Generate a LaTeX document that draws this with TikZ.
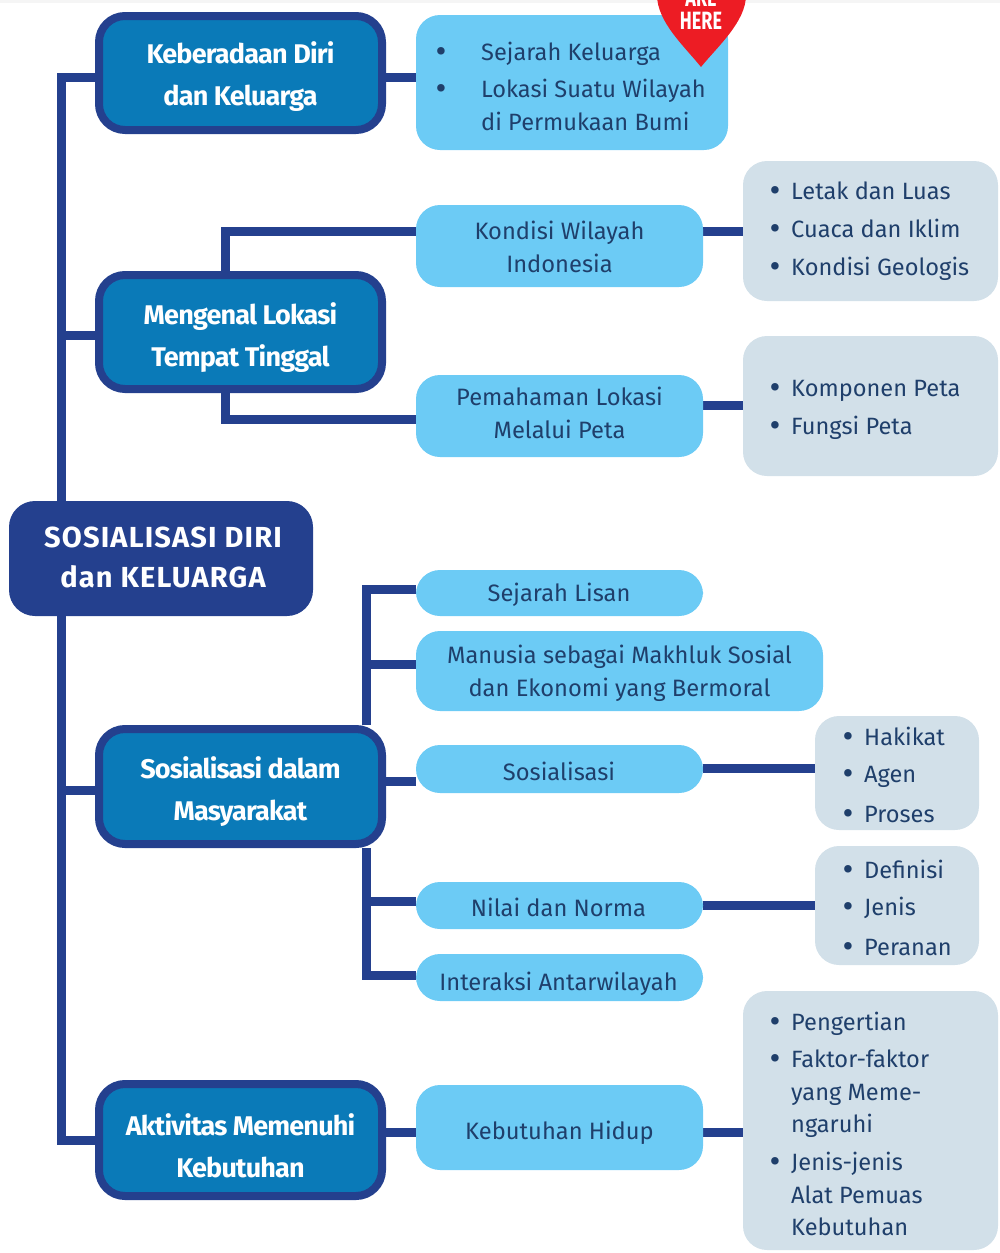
\documentclass[tikz,border=0pt]{standalone}
\usepackage{fontspec}
\setmainfont{Fira Sans}
\usetikzlibrary{backgrounds}
\definecolor{navy}{HTML}{24408E}
\definecolor{midblue}{HTML}{0A7AB8}
\definecolor{lightblue}{HTML}{6CCBF5}
\definecolor{greybox}{HTML}{D2E0E9}
\definecolor{inktext}{HTML}{1F3F6B}
\definecolor{heartred}{HTML}{ED1C24}
\tikzset{
  conn/.style={draw=navy,line width=9pt,line cap=butt,line join=miter},
  rootbox/.style={fill=navy,rounded corners=26pt,inner sep=0pt},
  roottext/.style={inner sep=0pt,align=center,text=white,font=\fontsize{29}{40}\selectfont\bfseries\addfontfeature{LetterSpace=4}},
  topicbox/.style={fill=midblue,draw=navy,line width=8pt,rounded corners=26pt,inner sep=0pt},
  topictext/.style={inner sep=0pt,align=center,text=white,font=\fontsize{27}{42}\selectfont\bfseries\addfontfeature{LetterSpace=-3}},
  subbox/.style={fill=lightblue,rounded corners=24pt,inner sep=0pt},
  subtext/.style={inner sep=0pt,align=center,text=inktext,font=\fontsize{23.7}{33}\selectfont},
  listbox/.style={fill=greybox,rounded corners=24pt,inner sep=0pt},
  itemtext/.style={anchor=base west,inner sep=0pt,text=inktext,font=\fontsize{23.6}{33}\selectfont},
  bullet/.style={anchor=base,inner sep=0pt,text=inktext,font=\fontsize{27}{33}\selectfont\bfseries},
  heartlabel/.style={inner sep=0pt,text=white,font=\fontsize{25}{25}\selectfont\bfseries,xscale=.72}
}
\newcommand{\itemline}[5]{% name, bullet x, text x, baseline y, text
  \node[bullet] (#1b) at (#2,#4) {•};
  \node[itemtext] (#1) at (#3,#4) {#5};}
\begin{document}
\begin{tikzpicture}[x=1pt,y=-1pt]
\useasboundingbox (0,0) rectangle (1000,1253);

% main boxes
\node[rootbox,minimum width=304pt,minimum height=115pt] (root) at (161,558.5) {};
\node[roottext] (roott) at (163,557) {SOSIALISASI DIRI\\dan KELUARGA};
\node[topicbox,minimum width=283pt,minimum height=114pt] (kel) at (240.5,73) {};
\node[topictext] (kelt) at (240.5,77) {Keberadaan Diri\\dan Keluarga};
\node[topicbox,minimum width=283pt,minimum height=114pt] (lok) at (240.5,332) {};
\node[topictext] (lokt) at (240.5,338) {Mengenal Lokasi\\Tempat Tinggal};
\node[topicbox,minimum width=283pt,minimum height=115pt] (sos) at (240.5,786.5) {};
\node[topictext] (sost) at (240.5,792) {Sosialisasi dalam\\Masyarakat};
\node[topicbox,minimum width=283pt,minimum height=112pt] (akt) at (240.5,1140) {};
\node[topictext] (aktt) at (240.5,1146) {Aktivitas Memenuhi\\Kebutuhan};

% first-level content
\node[subbox,minimum width=312pt,minimum height=135pt] (sej) at (572,82.5) {};
\node[subbox,minimum width=287pt,minimum height=82pt] (kon) at (559.5,246) {};
\node[subtext] (kont) at (559.5,247) {Kondisi Wilayah\\Indonesia};
\node[subbox,minimum width=287pt,minimum height=82pt] (pem) at (559.5,416) {};
\node[subtext] (pemt) at (559.5,413) {Pemahaman Lokasi\\Melalui Peta};
\node[subbox,minimum width=287pt,minimum height=46pt] (lis) at (559.5,593) {};
\node[subtext] (list) at (559,595) {Sejarah Lisan};
\node[subbox,minimum width=407pt,minimum height=80pt] (man) at (619.5,671) {};
\node[subtext] (mant) at (619.5,673) {Manusia sebagai Makhluk Sosial\\dan Ekonomi yang Bermoral};
\node[subbox,minimum width=287pt,minimum height=48pt] (sok) at (559.5,769) {};
\node[subtext] (sokt) at (559,771) {Sosialisasi};
\node[subbox,minimum width=287pt,minimum height=47pt] (nil) at (559.5,905.5) {};
\node[subtext] (nilt) at (558.5,907) {Nilai dan Norma};
\node[subbox,minimum width=287pt,minimum height=47pt] (int) at (559.5,977.5) {};
\node[subtext] (intt) at (558.5,984) {Interaksi Antarwilayah};
\node[subbox,minimum width=287pt,minimum height=85pt] (keb) at (559.5,1127.5) {};
\node[subtext] (kebt) at (559.5,1133) {Kebutuhan Hidup};

% grey list boxes
\node[listbox,minimum width=255pt,minimum height=140pt] (ga) at (870.5,231) {};
\node[listbox,minimum width=255pt,minimum height=140pt] (gb) at (870.5,406) {};
\node[listbox,minimum width=164pt,minimum height=114pt] (gc) at (897,773) {};
\node[listbox,minimum width=164pt,minimum height=119pt] (gd) at (897,905.5) {};
\node[listbox,minimum width=255pt,minimum height=259pt] (ge) at (870.5,1120.5) {};

% junction coordinates
\coordinate (s1) at (61,77);
\coordinate (s2) at (61,335);
\coordinate (s3) at (61,790);
\coordinate (s4) at (61,1140);
\coordinate (u1) at (225,231);
\coordinate (u2) at (225,419);
\coordinate (v1) at (366,589);
\coordinate (v2) at (366,664);
\coordinate (v3) at (366,781);
\coordinate (v4) at (366,901);
\coordinate (v5) at (366,975);
\coordinate (h1) at (703,405);
\coordinate (h2) at (703,768);
\coordinate (h3) at (703,1132);

% connectors
\begin{pgfonlayer}{background}
\fill[black!4] (0,0) rectangle (1000,3);
\draw[conn] (s1 |- root.north) -- (s1) -- (s1 -| kel.west);
\draw[conn] (s2) -- (s2 -| lok.west);
\draw[conn] (s3) -- (s3 -| sos.west);
\draw[conn] (s4 |- root.south) -- (s4) -- (s4 -| akt.west);
\draw[conn] (kel.east |- s1) -- (sej.west |- s1);
\draw[conn] (u1 |- lok.north) -- (u1) -- (u1 -| kon.west);
\draw[conn] (u2 |- lok.south) -- (u2) -- (u2 -| pem.west);
\draw[conn] (kon.east |- u1) -- (ga.west |- u1);
\draw[conn] (pem.east |- h1) -- (gb.west |- h1);
\draw[conn] (v2 |- sos.north) -- (v1) -- (v1 -| lis.west);
\draw[conn] (v2) -- (v2 -| man.west);
\draw[conn] (sos.east |- v3) -- (v3 -| sok.west);
\draw[conn] (v4 |- sos.south) -- (v5) -- (v5 -| int.west);
\draw[conn] (v4) -- (v4 -| nil.west);
\draw[conn] (sok.east |- h2) -- (gc.west |- h2);
\draw[conn] (nil.east) -- (gd.west);
\draw[conn] (akt.east |- h3) -- (h3 -| keb.west);
\draw[conn] (keb.east |- h3) -- (ge.west |- h3);
\end{pgfonlayer}

% list texts
\itemline{a1}{441}{481}{60}{Sejarah Keluarga}
\itemline{a2}{441}{481}{97}{Lokasi Suatu Wilayah}
\node[itemtext] (a3) at (481,130) {di Permukaan Bumi};

\itemline{b1}{775}{791}{199}{Letak dan Luas}
\itemline{b2}{775}{791}{237}{Cuaca dan Iklim}
\itemline{b3}{775}{791}{275}{Kondisi Geologis}
\itemline{c1}{775}{791}{396}{Komponen Peta}
\itemline{c2}{775}{791}{434}{Fungsi Peta}
\itemline{d1}{848}{864}{745}{Hakikat}
\itemline{d2}{848}{864}{782}{Agen}
\itemline{d3}{848}{864}{822}{Proses}
\itemline{e1}{848}{864}{878}{Definisi}
\itemline{e2}{848}{864}{915}{Jenis}
\itemline{e3}{848}{864}{955}{Peranan}
\itemline{f1}{775}{791}{1030}{Pengertian}
\itemline{f2}{775}{791}{1067}{Faktor-faktor}
\node[itemtext] (f3) at (791,1100) {yang Meme-};
\node[itemtext] (f4) at (791,1132) {ngaruhi};
\itemline{f5}{775}{791}{1170}{Jenis-jenis}
\node[itemtext] (f6) at (791,1203) {Alat Pemuas};
\node[itemtext] (f7) at (791,1235) {Kebutuhan};

% map marker, cut by the top edge
\begin{scope}
\clip (0,0) rectangle (1000,1253);
\fill[heartred] (701,67) .. controls (685,47) and (657,22) .. (657,-5) -- (746,-5) .. controls (746,22) and (717,47) .. (701,67) -- cycle;
\node[heartlabel] (are) at (701,-2) {ARE};
\node[heartlabel] (here) at (701,21) {HERE};
\end{scope}
\end{tikzpicture}
\end{document}
